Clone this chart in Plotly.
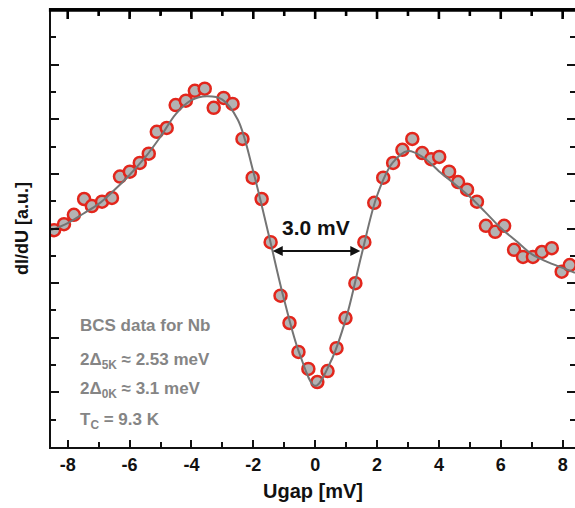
import plotly.graph_objects as go

# Measured data points (Ugap in mV, dI/dU in a.u.)
u_meas = [-8.44, -8.12, -7.80, -7.47, -7.22, -6.89, -6.57, -6.31, -5.99, -5.67,
          -5.38, -5.12, -4.80, -4.51, -4.18, -3.89, -3.57, -3.28, -2.96, -2.67,
          -2.35, -2.02, -1.73, -1.44, -1.12, -0.83, -0.54, -0.22, 0.07, 0.40,
          0.69, 0.98, 1.30, 1.59, 1.91, 2.20, 2.52, 2.82, 3.14, 3.46,
          3.75, 4.01, 4.33, 4.62, 4.91, 5.23, 5.52, 5.82, 6.11, 6.43,
          6.72, 7.04, 7.33, 7.65, 7.97, 8.23]
g_meas = [3.97, 4.08, 4.25, 4.54, 4.41, 4.49, 4.56, 4.95, 5.04, 5.20,
          5.37, 5.77, 5.84, 6.26, 6.34, 6.52, 6.56, 6.21, 6.39, 6.28,
          5.64, 4.93, 4.54, 3.75, 2.77, 2.27, 1.74, 1.43, 1.19, 1.39,
          1.81, 2.36, 3.00, 3.75, 4.47, 4.93, 5.20, 5.44, 5.64, 5.38,
          5.27, 5.31, 5.04, 4.85, 4.71, 4.49, 4.05, 3.94, 4.05, 3.61,
          3.48, 3.48, 3.57, 3.64, 3.21, 3.33]

# BCS fit curve
u_fit = [-8.54, -8.0, -7.5, -7.0, -6.5, -6.0, -5.5, -5.0, -4.5, -4.0, -3.5, -3.0,
         -2.5, -2.0, -1.5, -1.0, -0.5, 0.0, 0.5, 1.0, 1.5, 2.0, 2.5, 3.0, 3.5,
         4.0, 4.5, 5.0, 5.5, 6.0, 6.5, 7.0, 7.5, 8.0, 8.4]
g_fit = [3.97, 4.10, 4.27, 4.45, 4.70, 4.98, 5.30, 5.68, 6.10, 6.35, 6.42, 6.36,
         5.99, 5.04, 3.88, 2.69, 1.70, 1.12, 1.56, 2.36, 3.52, 4.60, 5.20, 5.42, 5.30,
         5.05, 4.82, 4.58, 4.30, 4.01, 3.77, 3.53, 3.39, 3.28, 3.19]

x_range = [-8.54, 8.40]
y_range = [0, 8]
x_tick_vals = [-8, -6, -4, -2, 0, 2, 4, 6, 8]
x_tick_text = ["-8", "-6", "-4", "-2", "0", "2", "4", "6", "8"]
x_minor_vals = [-7, -5, -3, -1, 1, 3, 5, 7]

gap_left, gap_right, gap_level = -1.42, 1.46, 3.59
gap_label = "3.0 mV"

info_lines = ["BCS data for Nb",
              "2Δ<sub>5K</sub> ≈ 2.53 meV",
              "2Δ<sub>0K</sub> ≈ 3.1 meV",
              "T<sub>C</sub> = 9.3 K"]

FONT = "Liberation Sans, Arial, sans-serif"
INK = "#111111"
W, H = 575, 508
M_L, M_R, M_T, M_B = 51, 0, 10, 61
plot_h = H - M_T - M_B
plot_w = W - M_L - M_R
x_per_px = (x_range[1] - x_range[0]) / plot_w

fig = go.Figure()
fig.add_trace(go.Scatter(
    x=u_meas, y=g_meas, mode="markers",
    marker=dict(size=12, color="#b3b3b3", line=dict(color="#e3261c", width=2.5)),
    showlegend=False, hoverinfo="skip"))
fig.add_trace(go.Scatter(
    x=u_fit, y=g_fit, mode="lines", line=dict(color="#747474", width=2, shape="spline"),
    showlegend=False, hoverinfo="skip"))
# empty trace that carries the right-hand tick axis
fig.add_trace(go.Scatter(x=[], y=[], yaxis="y2", showlegend=False, hoverinfo="skip"))

minor_x = dict(dtick=1, ticks="inside", ticklen=5, tickwidth=2, tickcolor=INK)
minor_y = dict(dtick=0.5, ticks="inside", ticklen=5, tickwidth=2, tickcolor=INK)

fig.update_layout(
    width=W, height=H,
    margin=dict(l=M_L, r=M_R, t=M_T, b=M_B),
    paper_bgcolor="white", plot_bgcolor="white",
    font=dict(family=FONT),
    xaxis=dict(
        range=x_range, tickvals=x_tick_vals, ticktext=x_tick_text,
        ticks="inside", ticklen=7, tickwidth=2, tickcolor=INK, minor=minor_x,
        showline=True, linecolor=INK, linewidth=2, mirror="ticks",
        showgrid=False, zeroline=False,
        tickfont=dict(family=FONT, size=18, color="#111", weight="bold"),
        title=dict(text="Ugap [mV]", standoff=10,
                   font=dict(family=FONT, size=20, color="#111", weight="bold")),
    ),
    yaxis=dict(
        range=y_range, dtick=1, ticks="inside", ticklen=8, tickwidth=2, tickcolor=INK,
        minor=minor_y,
        showline=True, linecolor=INK, linewidth=2, mirror=False,
        showticklabels=False, showgrid=False, zeroline=False,
        title=dict(text="dI/dU [a.u.]", standoff=16,
                   font=dict(family=FONT, size=18, color="#111", weight="bold")),
    ),
    yaxis2=dict(
        range=y_range, dtick=1, overlaying="y", side="right", anchor="x",
        ticks="inside", ticklen=8, tickwidth=2, tickcolor=INK, minor=minor_y,
        showline=False, showticklabels=False, showgrid=False, zeroline=False,
    ),
)

# top frame line (filled thin band)
fig.add_shape(type="rect", xref="paper", yref="paper",
              x0=-0.004, x1=1.0, y0=0.996, y1=1.004,
              line=dict(width=0), fillcolor="#000000", layer="above")
# top frame ticks at the x tick positions
for vals, length in ((x_tick_vals, 9), (x_minor_vals, 6)):
    for v in vals:
        fig.add_shape(type="rect", xref="x", yref="paper",
                      x0=v - 1.3 * x_per_px, x1=v + 1.3 * x_per_px,
                      y0=1.0 - length / plot_h, y1=1.0,
                      line=dict(width=0), fillcolor="#000000", layer="above")

# double-headed arrow for gap width
fig.add_annotation(x=gap_right, y=gap_level, ax=gap_left, ay=gap_level,
                   xref="x", yref="y", axref="x", ayref="y", text="",
                   showarrow=True, arrowhead=2, startarrowhead=2, arrowside="end+start",
                   arrowsize=1, arrowwidth=2, arrowcolor="#111")
fig.add_annotation(x=(gap_left + gap_right) / 2, y=4.02, xref="x", yref="y",
                   text="<b>" + gap_label + "</b>", showarrow=False,
                   font=dict(family=FONT, size=21, color="#111"))

info_y = [0.277, 0.197, 0.130, 0.060]
for txt, yy in zip(info_lines, info_y):
    fig.add_annotation(x=0.052, y=yy, xref="paper", yref="paper", text=txt,
                       showarrow=False, xanchor="left", yanchor="middle",
                       font=dict(family=FONT, size=17, color="#858585", weight="bold"))

fig.write_html("out.html")
